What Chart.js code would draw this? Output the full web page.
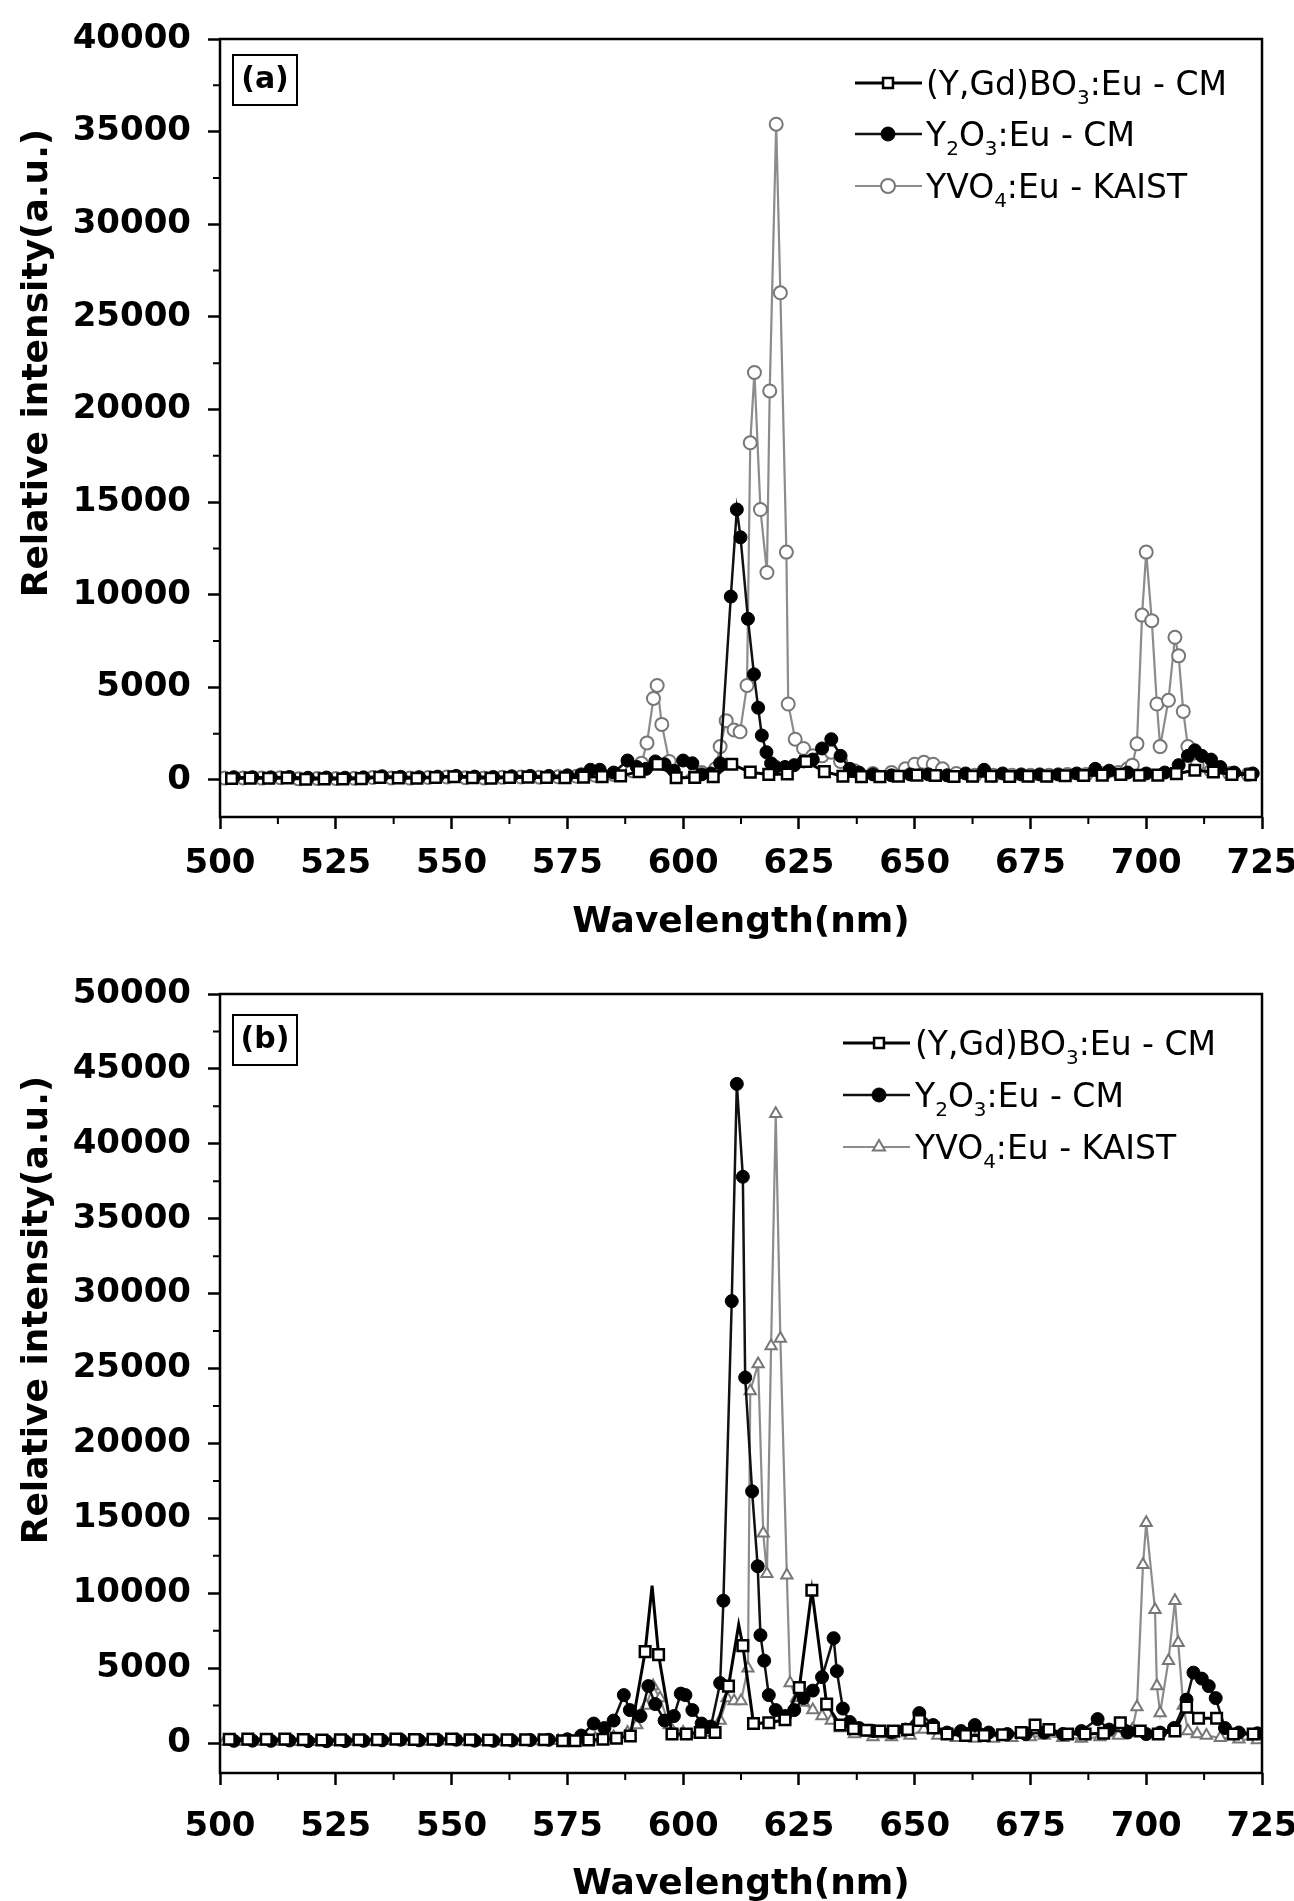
<!DOCTYPE html>
<html>
<head>
<meta charset="utf-8">
<script src="https://cdn.jsdelivr.net/npm/chart.js@4.4.0/dist/chart.umd.min.js"></script>
<style>
  body { margin: 0; background: #fff; }
  canvas { display: block; }
</style>
</head>
<body>
<canvas id="chartA" width="1294" height="950"></canvas>
<canvas id="chartB" width="1294" height="951"></canvas>
<script>
//series names, split into [text, isSubscript] parts for the legend
const seriesLabels = ['(Y,Gd)BO3:Eu - CM', 'Y2O3:Eu - CM', 'YVO4:Eu - KAIST']
const seriesParts = [
    [['(Y,Gd)BO', 0], ['3', 1], [':Eu - CM', 0]],
    [['Y', 0], ['2', 1], ['O', 0], ['3', 1], [':Eu - CM', 0]],
    [['YVO', 0], ['4', 1], [':Eu - KAIST', 0]]
]
const xTitle = 'Wavelength(nm)'
const yTitle = 'Relative intensity(a.u.)'

//tick labels
const xTicks = [500, 525, 550, 575, 600, 625, 650, 675, 700, 725]
const aYTicks = [0, 5000, 10000, 15000, 20000, 25000, 30000, 35000, 40000]
const bYTicks = [0, 5000, 10000, 15000, 20000, 25000, 30000, 35000, 40000, 45000, 50000]

//panel (a) - (Y,Gd)BO3
const aBoX = [502.5, 506.5, 510.5, 514.5, 518.5, 522.5, 526.5, 530.5, 534.5, 538.5, 542.5, 546.5, 550.5, 554.5, 558.5, 562.5, 566.5, 570.5, 574.5, 578.5, 582.5, 586.5, 590.5, 594.5, 598.5, 602.5, 606.5, 610.5, 614.5, 618.5, 622.5, 626.5, 630.5, 634.5, 638.5, 642.5, 646.5, 650.5, 654.5, 658.5, 662.5, 666.5, 670.5, 674.5, 678.5, 682.5, 686.5, 690.5, 694.5, 698.5, 702.5, 706.5, 710.5, 714.5, 718.5, 722.5]
const aBoY = [80, 100, 90, 110, 40, 60, 50, 70, 140, 110, 90, 130, 170, 120, 90, 130, 150, 130, 120, 150, 180, 220, 450, 850, 120, 130, 180, 850, 420, 300, 320, 1000, 450, 200, 180, 180, 200, 260, 240, 190, 200, 200, 190, 200, 200, 230, 240, 260, 300, 250, 260, 340, 520, 430, 300, 280]

//panel (a) - Y2O3
const aY2X = [503, 507, 511, 515, 519, 523, 527, 531, 535, 539, 543, 547, 551, 555, 559, 563, 567, 571, 575, 578, 580, 582, 585, 588, 590, 592, 594, 596, 598, 600, 602, 604, 606, 608, 610.3, 611.6, 612.4, 614, 615.3, 616.2, 617, 618, 619, 620, 622, 624, 626, 628, 630, 632, 634, 636, 638, 641, 645, 649, 653, 657, 661, 665, 669, 673, 677, 681, 685, 689, 692, 696, 700, 704, 707, 709, 710.5, 712, 714, 716, 719, 723]
const aY2Y = [150, 150, 140, 160, 120, 130, 120, 140, 200, 170, 150, 180, 220, 180, 160, 200, 220, 220, 250, 300, 550, 550, 400, 1050, 700, 600, 1000, 850, 500, 1050, 900, 300, 350, 900, 9900, 14600, 13100, 8700, 5700, 3900, 2400, 1500, 900, 700, 700, 800, 1000, 1100, 1700, 2200, 1300, 600, 400, 300, 250, 300, 300, 250, 350, 550, 350, 300, 300, 300, 350, 600, 500, 400, 350, 400, 800, 1300, 1600, 1300, 1100, 700, 400, 350]

//panel (a) - YVO4
const aYvX = [501, 505, 509, 513, 517, 521, 525, 529, 533, 537, 541, 545, 549, 553, 557, 561, 565, 569, 573, 577, 581, 585, 589, 591, 592.2, 593.6, 594.4, 595.4, 597, 600, 604, 607, 608, 609.3, 611, 612.3, 613.8, 614.5, 615.4, 616.7, 618.1, 618.7, 620.1, 621, 622.3, 622.7, 624.2, 626, 628, 630, 632, 634, 637, 641, 645, 648, 650, 652, 654, 656, 659, 663, 667, 671, 675, 679, 683, 687, 691, 694, 696, 697, 698, 699.1, 700, 701.2, 702.3, 703, 704.8, 706.2, 707, 708, 709, 711, 714, 718, 722]
const aYvY = [100, 110, 100, 120, 60, 80, 80, 90, 130, 110, 100, 130, 160, 120, 110, 140, 160, 150, 170, 200, 250, 300, 500, 900, 2000, 4400, 5100, 3000, 1000, 500, 400, 600, 1800, 3200, 2700, 2600, 5100, 18200, 22000, 14600, 11200, 21000, 35400, 26300, 12300, 4100, 2200, 1700, 1300, 1300, 1500, 1000, 500, 350, 400, 600, 850, 950, 850, 600, 350, 250, 250, 250, 250, 250, 300, 300, 350, 400, 600, 800, 1950, 8900, 12300, 8600, 4100, 1800, 4300, 7700, 6700, 3700, 1800, 800, 500, 350, 300]

//panel (b) - (Y,Gd)BO3
const bBoX = [502, 506, 510, 514, 518, 522, 526, 530, 534, 538, 542, 546, 550, 554, 558, 562, 566, 570, 574, 576.7, 579.6, 582.7, 585.6, 588.6, 591.8, 593.3, 594.7, 597.6, 600.7, 603.7, 606.9, 609.8, 612, 612.9, 615.2, 618.5, 622, 625.1, 627.8, 631, 633.9, 636.8, 639.6, 642.5, 645.4, 648.5, 651, 654, 657, 661, 665, 669, 673, 676, 679, 683, 686.8, 690.8, 694.4, 698.7, 702.6, 706.2, 708.7, 711.3, 715.2, 718.8, 723.1]
const bBoY = [250, 260, 250, 260, 230, 200, 210, 220, 230, 260, 240, 250, 270, 220, 200, 210, 220, 220, 150, 150, 200, 250, 320, 470, 6100, 10500, 5900, 600, 600, 700, 700, 3800, 7900, 6500, 1300, 1350, 1550, 3700, 10200, 2600, 1200, 950, 850, 800, 800, 900, 1500, 1000, 600, 500, 500, 550, 700, 1200, 900, 600, 600, 650, 1350, 800, 600, 800, 2400, 1650, 1650, 600, 600]
//line vertices with no symbol drawn on them
const bBoNoMark = [593.3, 612]

//panel (b) - Y2O3
const bY2X = [503, 507, 511, 515, 519, 523, 527, 531, 535, 539, 543, 547, 551, 555, 559, 563, 567, 571, 575, 578, 580.7, 583, 585, 587.2, 588.5, 590.8, 592.5, 594, 596, 598, 599.5, 600.5, 602, 604, 606, 608, 608.7, 610.5, 611.6, 612.9, 613.4, 614.9, 616.1, 616.7, 617.5, 618.5, 620, 622, 624, 626, 628, 630, 632.5, 633.2, 634.5, 636, 638, 641, 645, 648, 651, 654, 657, 660, 663, 666, 670, 674, 678, 682, 686, 689.5, 692, 696, 700, 703, 706, 708.7, 710.2, 712, 713.5, 715, 717, 720, 724]
const bY2Y = [150, 160, 150, 170, 130, 120, 130, 150, 180, 220, 180, 200, 220, 160, 150, 170, 200, 220, 250, 500, 1300, 1000, 1500, 3200, 2200, 1800, 3800, 2600, 1500, 1800, 3300, 3200, 2200, 1300, 1100, 4000, 9500, 29500, 44000, 37800, 24400, 16800, 11800, 7200, 5500, 3200, 2200, 1800, 2200, 3000, 3500, 4400, 7000, 4800, 2300, 1400, 1000, 800, 700, 900, 2000, 1200, 700, 800, 1200, 700, 600, 600, 700, 600, 800, 1600, 900, 700, 600, 700, 1000, 2900, 4700, 4300, 3800, 3000, 1000, 700, 650]

//panel (b) - YVO4
const bYvX = [501, 505, 509, 513, 517, 521, 525, 529, 533, 537, 541, 545, 549, 553, 557, 561, 565, 569, 573, 577, 581, 585, 588, 590, 592, 593.5, 595, 597, 600, 603, 606, 608, 609.5, 611, 612.5, 614, 614.5, 616.2, 617.3, 618.1, 619, 620, 621, 622.4, 623.1, 624.5, 626, 628, 630, 632, 634, 637, 641, 645, 649, 652, 655, 659, 663, 667, 671, 675, 678, 682, 686, 690, 694, 696, 697, 698, 699.3, 700, 701.9, 702.3, 703, 704.8, 706.2, 706.9, 708, 709, 711, 713, 716, 720, 724]
const bYvY = [100, 110, 100, 110, 90, 80, 90, 100, 110, 150, 120, 110, 130, 100, 90, 110, 120, 130, 150, 200, 300, 400, 700, 1200, 2500, 3800, 3000, 1200, 700, 600, 700, 1500, 3000, 2800, 2800, 5000, 23500, 25300, 14000, 11300, 26500, 42000, 27000, 11200, 4000, 3000, 2700, 2200, 1800, 1500, 1000, 600, 400, 400, 500, 900, 500, 350, 300, 300, 350, 400, 500, 350, 300, 400, 500, 700, 900, 2400, 11900, 14700, 8900, 3800, 2000, 5500, 9500, 6700, 2500, 800, 600, 500, 350, 250, 200]

//axis ranges
const xMin = 500, xMax = 725, xStep = 25
const aYMin = -2000, aYMax = 40000
const bYMin = -2000, bYMax = 50000
const yStep = 5000

//pair up x and y lists
toPoints = function(xs, ys) {
    return xs.map((x, i) => ({x: x, y: ys[i]}))
}

const tickFont = {family: 'DejaVu Sans', size: 34, weight: 'bold'}
const titleFont = {family: 'DejaVu Sans', size: 36, weight: 'bold'}

//frame, minor ticks, y title, panel tag and legend
const framePlugin = {
    id: 'frame',
    afterDraw(chart, args, opts) {
        const ctx = chart.ctx
        const a = chart.chartArea
        const sx = chart.scales.x
        const sy = chart.scales.y
        ctx.save()

        //box round the plot
        ctx.strokeStyle = '#000'
        ctx.lineWidth = 2.5
        ctx.strokeRect(a.left, a.top, a.right - a.left, a.bottom - a.top)

        //minor ticks, outward
        ctx.lineWidth = 2
        ctx.beginPath()
        for (let v = xMin + xStep / 2; v < xMax; v += xStep) {
            const px = sx.getPixelForValue(v)
            ctx.moveTo(px, a.bottom)
            ctx.lineTo(px, a.bottom + 7)
        }
        for (let v = yStep / 2; v < sy.max; v += yStep) {
            const py = sy.getPixelForValue(v)
            ctx.moveTo(a.left, py)
            ctx.lineTo(a.left - 7, py)
        }
        ctx.stroke()

        //y title (sits above the middle of the axis, as in the original)
        ctx.fillStyle = '#000'
        ctx.save()
        ctx.translate(38, opts.yTitleY)
        ctx.rotate(-Math.PI / 2)
        ctx.font = 'bold 36px "DejaVu Sans"'
        ctx.textAlign = 'center'
        ctx.textBaseline = 'middle'
        ctx.fillText(yTitle, 0, 0)
        ctx.restore()

        //panel tag
        ctx.lineWidth = 2
        ctx.strokeRect(a.left + 13, a.top + opts.tagTop, 64, 50)
        ctx.font = 'bold 30px "DejaVu Sans"'
        ctx.textAlign = 'center'
        ctx.textBaseline = 'middle'
        ctx.fillText(opts.tag, a.left + 45, a.top + opts.tagTop + 25)

        //legend
        ctx.textAlign = 'left'
        ctx.textBaseline = 'alphabetic'
        chart.data.datasets.forEach((ds, i) => {
            const y = a.top + opts.rows[i]
            ctx.strokeStyle = ds.borderColor
            ctx.lineWidth = ds.borderWidth
            ctx.beginPath()
            ctx.moveTo(opts.lineX0, y)
            ctx.lineTo(opts.lineX1, y)
            ctx.stroke()

            ctx.fillStyle = ds.pointBackgroundColor
            ctx.strokeStyle = ds.pointBorderColor
            ctx.lineWidth = ds.pointBorderWidth
            Chart.helpers.drawPoint(ctx, {pointStyle: ds.pointStyle, radius: 7, rotation: 0, borderWidth: ds.pointBorderWidth}, opts.markX, y)

            let x = opts.textX
            ctx.fillStyle = '#000'
            seriesParts[i].forEach(p => {
                ctx.font = p[1] ? '20px "DejaVu Sans"' : '33px "DejaVu Sans"'
                ctx.fillText(p[0], x, y + 12 + (p[1] ? 9 : 0))
                x += ctx.measureText(p[0]).width
            })
        })
        ctx.restore()
    }
}

//build one panel
makeConfig = function(sets, yMin, yMax, yTicks, layoutTop, xHeight, labelPad, titlePad, frameOpts) {
    return {
        type: 'scatter',
        data: {
            datasets: [{
                label: seriesLabels[0],
                data: sets[0],
                showLine: true,
                borderColor: '#000',
                borderWidth: 3,
                pointStyle: 'rect',
                pointRadius: c => (c.raw && sets.noMark.includes(c.raw.x)) ? 0 : 7.5,
                pointBackgroundColor: '#fff',
                pointBorderColor: '#000',
                pointBorderWidth: 2.5
            }, {
                label: seriesLabels[1],
                data: sets[1],
                showLine: true,
                borderColor: '#111',
                borderWidth: 2.5,
                pointStyle: 'circle',
                pointRadius: 6.5,
                pointBackgroundColor: '#000',
                pointBorderColor: '#000',
                pointBorderWidth: 1
            }, {
                label: seriesLabels[2],
                data: sets[2],
                showLine: true,
                borderColor: '#8c8c8c',
                borderWidth: 2.2,
                pointStyle: sets.yvStyle,
                pointRadius: 6.5,
                pointBackgroundColor: '#fff',
                pointBorderColor: '#777',
                pointBorderWidth: 2
            }]
        },
        options: {
            responsive: false,
            animation: false,
            layout: {padding: {top: layoutTop, right: 32, left: 0, bottom: 0}},
            elements: {line: {tension: 0}},
            plugins: {
                legend: {display: false},
                tooltip: {enabled: false},
                frame: frameOpts
            },
            scales: {
                x: {
                    type: 'linear',
                    min: xMin,
                    max: xMax,
                    grid: {drawOnChartArea: false, drawTicks: true, tickLength: 12, tickWidth: 2.5, tickColor: '#000'},
                    border: {display: false},
                    ticks: {autoSkip: false, maxRotation: 0, padding: labelPad, color: '#000', font: tickFont, callback: v => String(v)},
                    afterBuildTicks: s => { s.ticks = xTicks.map(v => ({value: v})) },
                    title: {display: true, text: xTitle, color: '#000', font: titleFont, padding: {top: 0, bottom: titlePad}},
                    afterFit: s => { s.height = xHeight; s.paddingLeft = 0; s.paddingRight = 0 }
                },
                y: {
                    min: yMin,
                    max: yMax,
                    grid: {drawOnChartArea: false, drawTicks: true, tickLength: 12, tickWidth: 2.5, tickColor: '#000'},
                    border: {display: false},
                    ticks: {padding: 17, color: '#000', font: tickFont, callback: v => String(v)},
                    afterBuildTicks: s => { s.ticks = yTicks.map(v => ({value: v})) },
                    afterFit: s => { s.width = 220; s.paddingTop = 0; s.paddingBottom = 0 }
                }
            }
        },
        plugins: [framePlugin]
    }
}

//render panel (a)
const setsA = [toPoints(aBoX, aBoY), toPoints(aY2X, aY2Y), toPoints(aYvX, aYvY)]
setsA.noMark = []
setsA.yvStyle = 'circle'
const ChartA = new Chart(
    document.getElementById('chartA'),
    makeConfig(setsA, aYMin, aYMax, aYTicks, 39, 133, 15, 6,
        {tag: '(a)', tagTop: 16, yTitleY: 363, rows: [44, 95, 147], lineX0: 855, markX: 888, lineX1: 922, textX: 926})
)

//render panel (b)
const setsB = [toPoints(bBoX, bBoY), toPoints(bY2X, bY2Y), toPoints(bYvX, bYvY)]
setsB.noMark = bBoNoMark
setsB.yvStyle = 'triangle'
const ChartB = new Chart(
    document.getElementById('chartB'),
    makeConfig(setsB, bYMin, bYMax, bYTicks, 44, 128, 22, -5,
        {tag: '(b)', tagTop: 21, yTitleY: 360, rows: [49, 101, 153], lineX0: 843, markX: 879, lineX1: 910, textX: 915})
)
</script>
</body>
</html>
